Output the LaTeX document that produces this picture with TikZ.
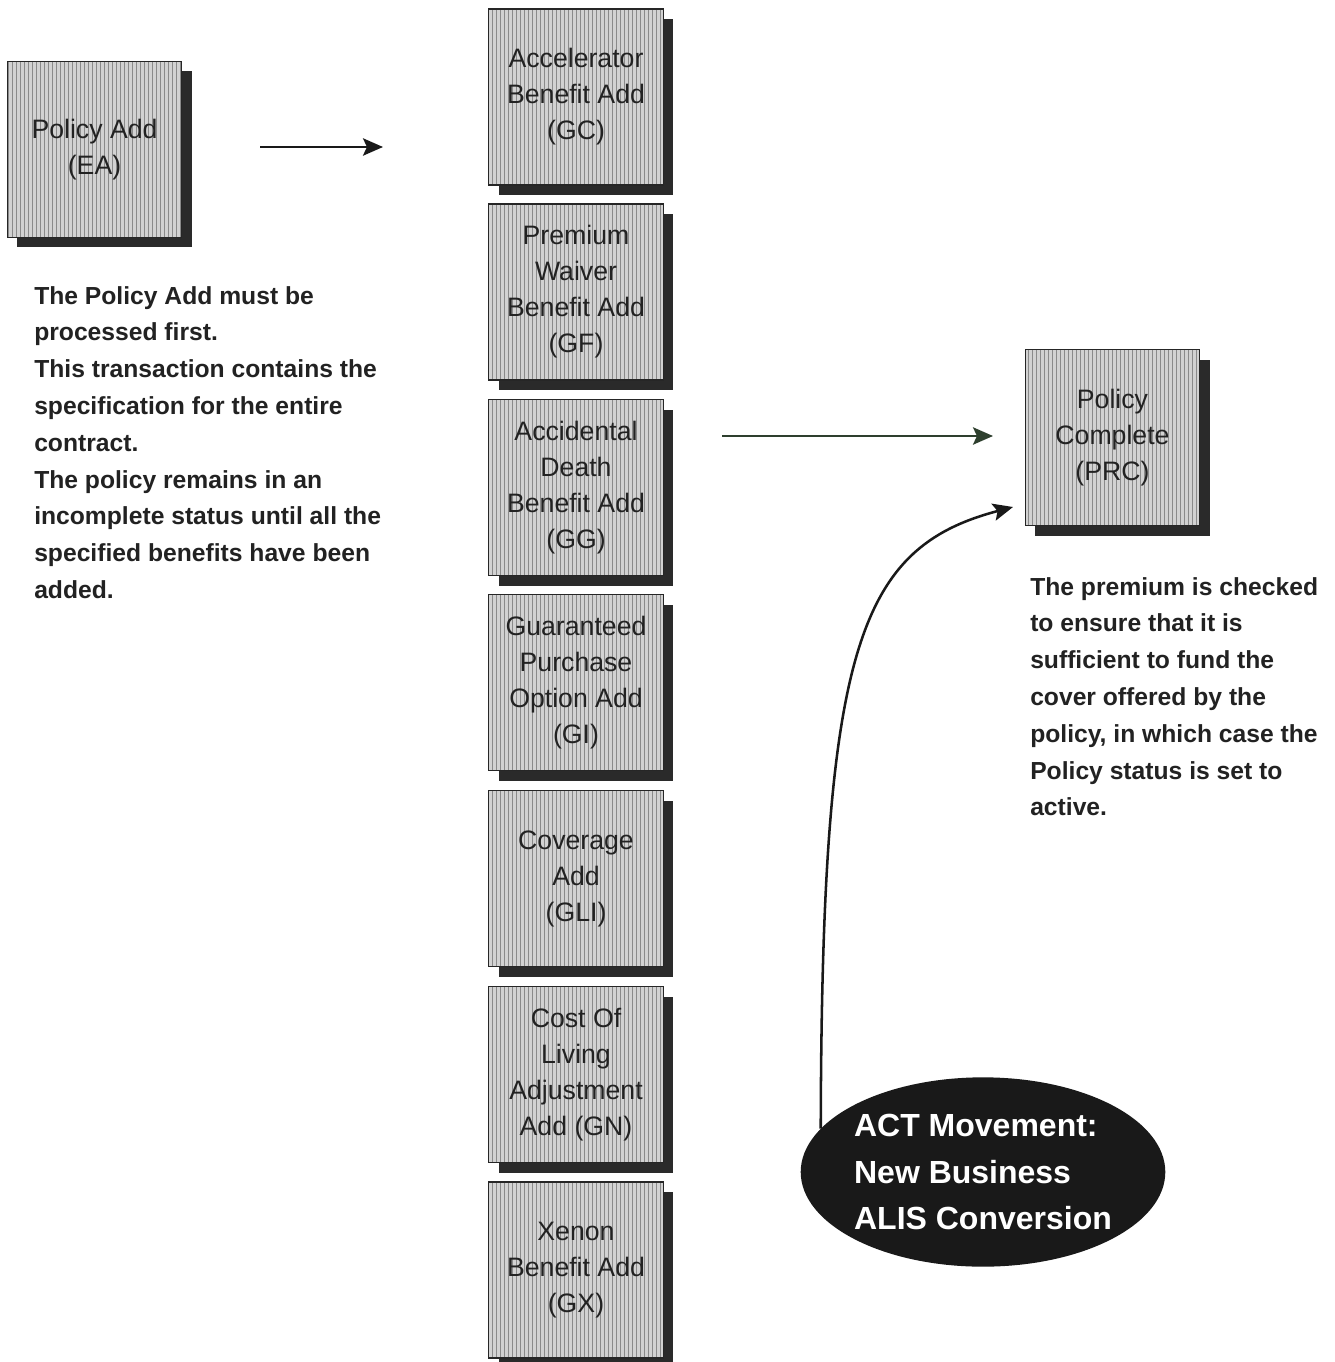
\documentclass[tikz,border=0pt]{standalone}
\usepackage{fontspec}
\setmainfont{Liberation Sans}
\usetikzlibrary{arrows.meta,patterns,shadows,shapes.geometric}
\definecolor{ink}{HTML}{222222}
\definecolor{boxfill}{HTML}{D2D2D2}
\definecolor{hatch}{HTML}{8A8A8A}
\definecolor{shade}{HTML}{2A2A2A}
\definecolor{flowgreen}{HTML}{2E3F2E}
\tikzset{
  txbox/.style={rectangle, draw=black!85, line width=0.9pt,
    minimum width=131pt, minimum height=132pt, inner sep=0pt,
    align=center, text=ink, font=\fontsize{20}{27}\selectfont,
    drop shadow={shadow xshift=7.5pt, shadow yshift=-7.5pt, fill=shade, opacity=1},
    preaction={fill=boxfill}, pattern=vertical lines, pattern color=hatch},
  note/.style={anchor=north west, inner sep=0pt, align=left, text=ink,
    font=\bfseries\fontsize{18.5}{27.6}\selectfont},
  flow/.style={line width=1.9pt, -{Stealth[length=15pt,width=13pt,inset=3pt]}},
  movement/.style={ellipse, fill=black!90, minimum width=270pt,
    minimum height=142pt, inner sep=0pt, text=white, align=left,
    font=\bfseries\fontsize{24}{35}\selectfont}
}
\begin{document}
\begin{tikzpicture}[x=0.75pt,y=-0.75pt]
  \useasboundingbox[fill=white] (0,0) rectangle (1334,1362);

  % starting transaction
  \node[txbox] (EA) at (94.5,149.5) {Policy Add\\(EA)};

  % benefit transactions, one column
  \node[txbox] (GC)  at (576,97)     {Accelerator\\Benefit Add\\(GC)};
  \node[txbox] (GF)  at (576,292)    {Premium\\Waiver\\Benefit Add\\(GF)};
  \node[txbox] (GG)  at (576,487.5)  {Accidental\\Death\\Benefit Add\\(GG)};
  \node[txbox] (GI)  at (576,682.5)  {Guaranteed\\Purchase\\Option Add\\(GI)};
  \node[txbox] (GLI) at (576,878.5)  {Coverage\\Add\\(GLI)};
  \node[txbox] (GN)  at (576,1074.5) {Cost Of\\Living\\Adjustment\\Add (GN)};
  \node[txbox] (GX)  at (576,1270)   {Xenon\\Benefit Add\\(GX)};

  % closing transaction
  \node[txbox] (PRC) at (1112.5,437.5) {Policy\\Complete\\(PRC)};

  % explanatory notes
  \node[note] (noteEA) at (34,286) {The Policy Add must be\\processed first.\\This transaction contains the\\specification for the entire\\contract.\\The policy remains in an\\incomplete status until all the\\specified benefits have been\\added.};
  \node[note] (notePRC) at (1030,577) {The premium is checked\\to ensure that it is\\sufficient to fund the\\cover offered by the\\policy, in which case the\\Policy status is set to\\active.};

  % movement source
  \node[movement] (ACT) at (983,1172) {ACT Movement:\\New Business\\ALIS Conversion};

  % connectors
  \coordinate (a1s) at (260,147);
  \coordinate (a1e) at (383,147);
  \coordinate (a2s) at (722,436);
  \coordinate (a2e) at (993,436);
  \coordinate (a3e) at (1013,507);
  \draw[flow, black!90] (a1s) -- (a1e);
  \draw[flow, flowgreen] (a2s) -- (a2e);
  \draw[flow, black!90] (ACT.165) .. controls (822,650) and (857,548) .. (a3e);
\end{tikzpicture}
\end{document}
